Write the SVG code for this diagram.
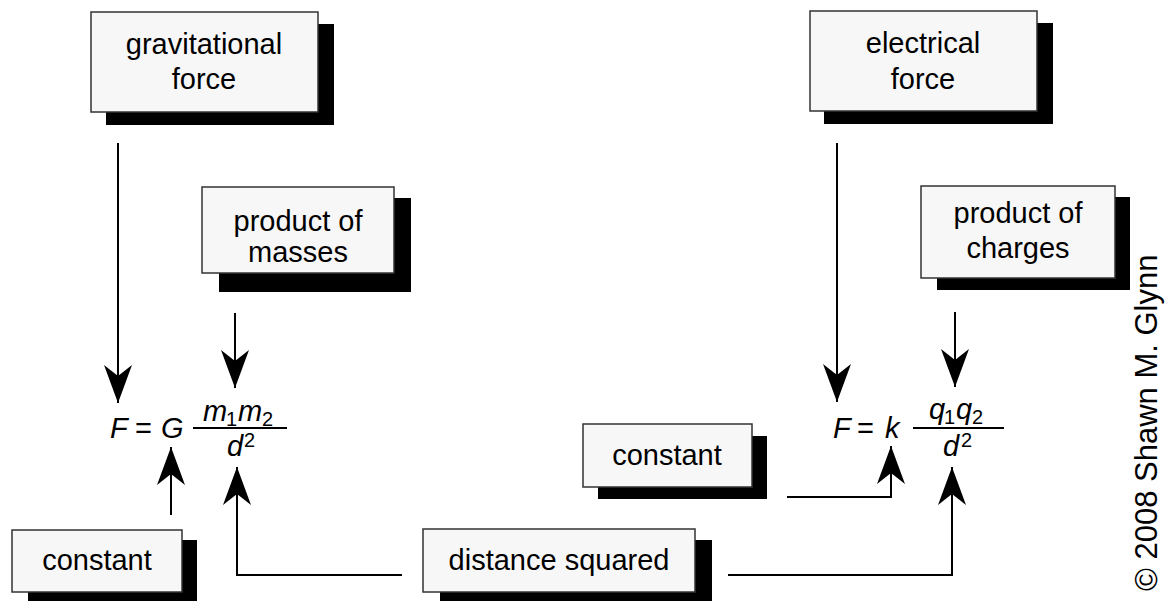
<svg xmlns="http://www.w3.org/2000/svg" width="1166" height="601" viewBox="0 0 1166 601">
<style>
.box{fill:#f7f7f7;stroke:#333;stroke-width:1.5}
.sh{fill:#000}
.lbl{font-family:"Liberation Sans",Arial,sans-serif;font-size:29px;fill:#000;text-anchor:middle}
.eq{font-family:"Liberation Sans",Arial,sans-serif;font-size:29px;fill:#000}
.it{font-style:italic}
.sub{font-size:20px}
.ln{fill:none;stroke:#000;stroke-width:2}
.cr{font-family:"Liberation Sans",Arial,sans-serif;font-size:31px;fill:#000}
</style>
<defs>
<marker id="ah" viewBox="0 0 38 30" refX="38" refY="15" markerWidth="38" markerHeight="30" markerUnits="userSpaceOnUse" orient="auto">
<path d="M38,15 L0,1 L11,15 L0,29 Z" fill="#000"/>
</marker>
</defs>
<rect width="1166" height="601" fill="#fff"/>
<g id="gravitational-force">
<rect class="sh" x="106" y="24" width="228" height="101"/>
<rect class="box" x="91" y="12" width="227" height="100"/>
<text class="lbl" x="204" y="54">gravitational</text>
<text class="lbl" x="204" y="89">force</text>
</g>
<g id="product-of-masses">
<rect class="sh" x="219" y="198" width="192" height="94"/>
<rect class="box" x="202" y="187" width="192" height="86"/>
<text class="lbl" x="298" y="231">product of</text>
<text class="lbl" x="298" y="262">masses</text>
</g>
<g id="constant-left">
<rect class="sh" x="28" y="540" width="169" height="61"/>
<rect class="box" x="12" y="530" width="170" height="62"/>
<text class="lbl" x="97" y="570">constant</text>
</g>
<g id="distance-squared">
<rect class="sh" x="440" y="540" width="272" height="61"/>
<rect class="box" x="423" y="529" width="272" height="63"/>
<text class="lbl" x="559" y="570">distance squared</text>
</g>
<g id="constant-mid">
<rect class="sh" x="598" y="436" width="169" height="63"/>
<rect class="box" x="583" y="424" width="169" height="63"/>
<text class="lbl" x="667" y="465">constant</text>
</g>
<g id="electrical-force">
<rect class="sh" x="824" y="23" width="229" height="101"/>
<rect class="box" x="810" y="11" width="227" height="100"/>
<text class="lbl" x="923" y="53">electrical</text>
<text class="lbl" x="923" y="89">force</text>
</g>
<g id="product-of-charges">
<rect class="sh" x="937" y="197" width="193" height="93"/>
<rect class="box" x="921" y="186" width="194" height="92"/>
<text class="lbl" x="1018" y="223">product of</text>
<text class="lbl" x="1018" y="258">charges</text>
</g>
<g id="formula-gravity">
<text class="eq it" x="110" y="438">F</text>
<text class="eq" x="135" y="438">=</text>
<text class="eq it" x="161" y="438">G</text>
<line class="ln" x1="193" y1="428" x2="287" y2="428"/>
<text class="eq it" x="203" y="421">m</text>
<text class="eq sub" x="226" y="426">1</text>
<text class="eq it" x="238" y="421">m</text>
<text class="eq sub" x="262" y="426">2</text>
<text class="eq it" x="227" y="456">d</text>
<text class="eq sub" x="244" y="447">2</text>
</g>
<g id="formula-electric">
<text class="eq it" x="833" y="438">F</text>
<text class="eq" x="857" y="438">=</text>
<text class="eq it" x="885" y="438">k</text>
<line class="ln" x1="913" y1="428" x2="1004" y2="428"/>
<text class="eq it" x="929" y="419">q</text>
<text class="eq sub" x="944" y="424">1</text>
<text class="eq it" x="956" y="419">q</text>
<text class="eq sub" x="972" y="424">2</text>
<text class="eq it" x="943" y="456">d</text>
<text class="eq sub" x="961" y="447">2</text>
</g>
<g id="connectors">
<path class="ln" d="M118,143 L118,403" marker-end="url(#ah)"/>
<path class="ln" d="M235,313 L235,388" marker-end="url(#ah)"/>
<path class="ln" d="M171,515 L171,447" marker-end="url(#ah)"/>
<path class="ln" d="M402,575 L237,575 L237,467" marker-end="url(#ah)"/>
<path class="ln" d="M728,575 L952,575 L952,467" marker-end="url(#ah)"/>
<path class="ln" d="M787,497 L891,497 L891,446" marker-end="url(#ah)"/>
<path class="ln" d="M837,143 L837,402" marker-end="url(#ah)"/>
<path class="ln" d="M955,312 L955,387" marker-end="url(#ah)"/>
</g>
<text class="cr" transform="translate(1157,591) rotate(-90)">© 2008 Shawn M. Glynn</text>
</svg>
